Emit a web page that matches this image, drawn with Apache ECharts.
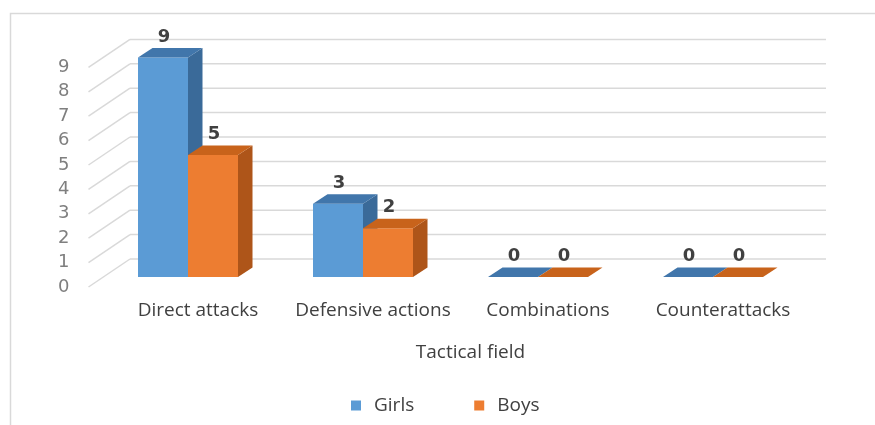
<!DOCTYPE html>
<html>
<head>
<meta charset="utf-8">
<script src="https://cdn.jsdelivr.net/npm/echarts@6/dist/echarts.min.js"></script>
<style>html,body{margin:0;padding:0;background:#fff}#c{width:875px;height:425px}</style>
</head>
<body>
<div id="c"></div>
<script>
var categories = ['Direct attacks', 'Defensive actions', 'Combinations', 'Counterattacks'];
var girls = [9, 3, 0, 0];
var boys = [5, 2, 0, 0];
var yTicks = [0, 1, 2, 3, 4, 5, 6, 7, 8, 9];
var seriesNames = ['Girls', 'Boys'];
var xTitle = 'Tactical field';

var DX = 14.5, DY = -9.5, BW = 50;
var faceColors = [
  {front: '#5B9BD5', top: '#4176AB', side: '#3A6A99'},
  {front: '#ED7D31', top: '#C8631B', side: '#AE5519'}
];

function barRender(sIdx) {
  return function (params, api) {
    var cat = api.value(0), val = api.value(1);
    var base = api.coord([cat, 0]);
    var top = api.coord([cat, val]);
    var x0 = base[0] - BW + sIdx * BW;
    var ty = top[1], by = base[1];
    var c = faceColors[sIdx];
    var children = [];
    if (by - ty > 0.5) {
      children.push({type: 'rect', shape: {x: x0, y: ty, width: BW, height: by - ty}, style: {fill: c.front}});
      children.push({type: 'polygon', shape: {points: [[x0 + BW, ty], [x0 + BW + DX, ty + DY], [x0 + BW + DX, by + DY], [x0 + BW, by]]}, style: {fill: c.side}});
    }
    children.push({type: 'polygon', shape: {points: [[x0, ty], [x0 + BW, ty], [x0 + BW + DX, ty + DY], [x0 + DX, ty + DY]]}, style: {fill: c.top}});
    children.push({type: 'text', style: {text: String(val), x: x0 + BW / 2 + 1, y: ty + DY - 11, align: 'center', verticalAlign: 'middle', fill: '#404040', font: 'bold 18px "DejaVu Sans", sans-serif'}});
    return {type: 'group', children: children};
  };
}

function wallRender(params, api) {
  var v = api.value(1);
  var p = api.coord([0, v]);
  var cs = params.coordSys;
  var y = p[1];
  var st = {stroke: '#d9d9d9', lineWidth: 1.5};
  return {type: 'group', children: [
    {type: 'line', shape: {x1: cs.x - 12, y1: y + 10, x2: cs.x + 29.5, y2: y - 18}, style: st},
    {type: 'line', shape: {x1: cs.x + 29.5, y1: y - 18, x2: cs.x + cs.width + 25.5, y2: y - 18}, style: st}
  ]};
}

var chart = echarts.init(document.getElementById('c'));
chart.setOption({
  animation: false,
  backgroundColor: '#ffffff',
  graphic: [
    {type: 'polyline', shape: {points: [[10.5, 425], [10.5, 13.5], [875, 13.5]]}, style: {stroke: '#d9d9d9', lineWidth: 1.5, fill: null}, silent: true}
  ],
  grid: [
    {left: 100.5, right: 74.5, top: 57.4, bottom: 148},
    {left: 88.5, right: 86.5, top: 67.4, bottom: 138},
    {left: 110.5, right: 64.5, top: 57.4, bottom: 148}
  ],
  xAxis: [
    {gridIndex: 0, type: 'category', data: categories, show: false},
    {gridIndex: 1, type: 'category', data: categories, show: false},
    {gridIndex: 2, type: 'category', data: categories,
      axisLine: {show: false}, axisTick: {show: false},
      axisLabel: {interval: 0, hideOverlap: false, margin: 24, color: '#404040', fontSize: 19, fontFamily: 'Open Sans'},
      name: xTitle, nameLocation: 'middle', nameGap: 66,
      nameTextStyle: {color: '#404040', fontSize: 19, fontFamily: 'Open Sans', padding: [0, 0, 0, 20]}}
  ],
  yAxis: [
    {gridIndex: 0, type: 'value', min: 0, max: 9, show: false},
    {gridIndex: 1, type: 'value', min: 0, max: 9, interval: 1,
      axisLine: {show: false}, axisTick: {show: false}, splitLine: {show: false},
      axisLabel: {margin: 19, color: '#7f7f7f', fontSize: 18, fontFamily: 'DejaVu Sans'}},
    {gridIndex: 2, type: 'value', min: 0, max: 9, show: false}
  ],
  legend: {
    data: seriesNames, left: 346, top: 391, icon: 'rect', itemWidth: 10, itemHeight: 10, itemGap: 60,
    textStyle: {color: '#404040', fontSize: 19, fontFamily: 'Open Sans', padding: [0, 0, 0, 8]}
  },
  series: [
    {type: 'custom', name: 'wall', xAxisIndex: 0, yAxisIndex: 0, renderItem: wallRender, clip: false, silent: true, z: 1,
      data: yTicks.map(function (v) { return [0, v]; })},
    {type: 'custom', name: seriesNames[0], xAxisIndex: 0, yAxisIndex: 0, renderItem: barRender(0), clip: false, z: 2,
      itemStyle: {color: '#5B9BD5'}, data: girls.map(function (v, i) { return [i, v]; })},
    {type: 'custom', name: seriesNames[1], xAxisIndex: 0, yAxisIndex: 0, renderItem: barRender(1), clip: false, z: 3,
      itemStyle: {color: '#ED7D31'}, data: boys.map(function (v, i) { return [i, v]; })}
  ]
});
</script>
</body>
</html>
